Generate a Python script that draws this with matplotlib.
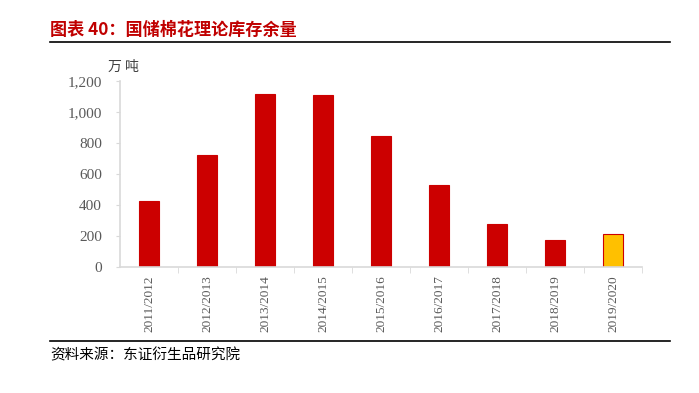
# 国储棉花理论库存余量 bar chart

import matplotlib.pyplot as plt
from matplotlib.lines import Line2D

plt.rcParams['font.family'] = ['Liberation Serif', 'Noto Sans CJK SC', 'DejaVu Sans']

seasons = ['2011/2012', '2012/2013', '2013/2014', '2014/2015', '2015/2016',
           '2016/2017', '2017/2018', '2018/2019', '2019/2020']
stock = [429, 725, 1118, 1112, 848, 527, 276, 177, 214]
bar_colors = ['#CC0000'] * 8 + ['#FFC000']
yticks = [0, 200, 400, 600, 800, 1000, 1200]

fig = plt.figure(figsize=(6.99, 3.93), dpi=100)
ax = fig.add_axes([120 / 699, 1 - 267 / 393, 522 / 699, 186 / 393])

x = list(range(len(seasons)))
ax.bar(x, stock, width=0.34, color=bar_colors, edgecolor='#CC0000', linewidth=0.8)

ax.set_xlim(-0.5, len(seasons) - 0.5)
ax.set_ylim(0, 1200)
ax.set_yticks(yticks)
ax.set_yticklabels([f'{v:,}' for v in yticks], color='#595959', fontsize=11)
ax.set_xticks(x)
ax.set_xticklabels(seasons, rotation=90, color='#595959', fontsize=9.5)
ax.tick_params(axis='x', length=0, pad=6)
ax.tick_params(axis='y', length=3, color='#D9D9D9', pad=10)
ax.set_xticks([i + 0.5 for i in x], minor=True)
ax.tick_params(axis='x', which='minor', length=4, color='#D9D9D9')

for side in ['top', 'right']:
    ax.spines[side].set_visible(False)
for side in ['left', 'bottom']:
    ax.spines[side].set_color('#D9D9D9')
    ax.spines[side].set_linewidth(1.2)

fig.text(108 / 699, 1 - 67 / 393, '万 吨', fontsize=10, color='#404040',
         family=['Noto Sans CJK SC'], va='center')

# header and footer
fig.text(50 / 699, 1 - 30 / 393, '图表 40：国储棉花理论库存余量', fontsize=12.3,
         fontweight='bold', color='#C00000', va='center',
         family=['Noto Sans CJK SC', 'DejaVu Sans'])
fig.add_artist(Line2D([50 / 699, 670 / 699], [1 - 42 / 393, 1 - 42 / 393],
                      color='black', linewidth=1.2))
fig.add_artist(Line2D([50 / 699, 670 / 699], [1 - 341 / 393, 1 - 341 / 393],
                      color='black', linewidth=1.2))
fig.text(50 / 699, 1 - 355 / 393, '资料来源：东证衍生品研究院', fontsize=10.5,
         color='black', va='center', family=['Noto Sans CJK SC', 'DejaVu Sans'])

fig.savefig('out.png', dpi=100)
